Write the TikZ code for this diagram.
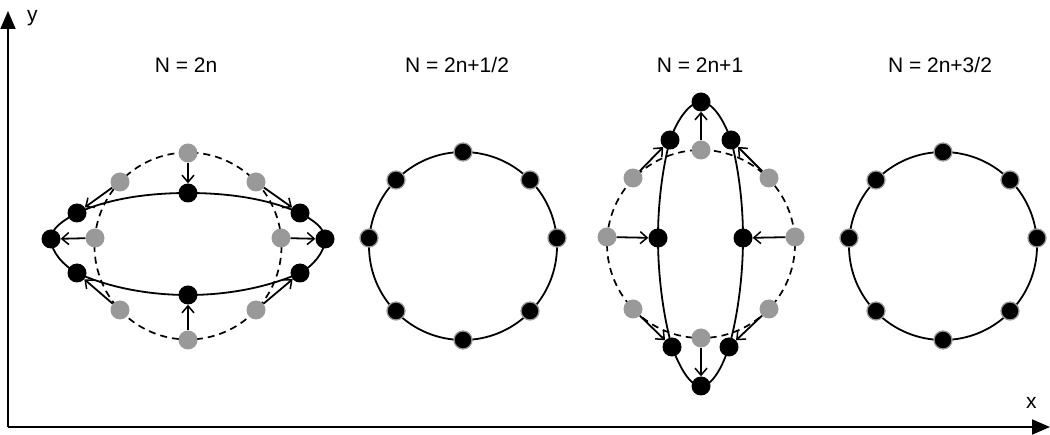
\documentclass[tikz,border=0pt]{standalone}
\usepackage{fontspec}
\setmainfont{Liberation Sans}
\usetikzlibrary{arrows.meta}
\pgfdeclarelayer{bg}
\pgfsetlayers{bg,main}
\definecolor{gr}{RGB}{153,153,153}
\begin{document}
\begin{tikzpicture}[x=1pt,y=-1pt,
  font=\fontsize{21}{24}\selectfont,
  bn/.style={circle,fill=black,minimum size=19pt,inner sep=0pt},
  gn/.style={circle,fill=gr,minimum size=19pt,inner sep=0pt},
  rn/.style={circle,fill=black,draw=gr,line width=1.3pt,minimum size=18pt,inner sep=0pt},
  solidcurve/.style={line width=1.8pt},
  dashcurve/.style={line width=1.7pt,dash pattern=on 7pt off 5pt},
  arr/.style={line width=1.8pt,-{Straight Barb[length=7pt,width=12pt,line width=1.5pt]}},
  axisline/.style={line width=1.9pt,-{Triangle[length=18pt,width=15pt]}},
  title/.style={anchor=base}]
\useasboundingbox (0,0) rectangle (1050,435);

% axes
\coordinate (o) at (8,427);
\coordinate (ytip) at (8,11);
\coordinate (xtip) at (1050,427);
\draw[axisline] (o) -- (ytip);
\draw[axisline] (o) -- (xtip);
\node[anchor=base west,inner sep=0pt] (ylab) at (27,22) {y};
\node[anchor=base west,inner sep=0pt] (xlab) at (1026,409) {x};

% titles
\node[title] (t1) at (186,73) {N = 2n};
\node[title] (t2) at (457,73) {N = 2n+1/2};
\node[title] (t3) at (700,73) {N = 2n+1};
\node[title] (t4) at (940,73) {N = 2n+3/2};

% ---------- diagram 1 ----------
\coordinate (c1) at (188,246);
\node[gn] (g1T)  at (188,153) {};
\node[gn] (g1UR) at (256,182) {};
\node[gn] (g1R)  at (281,238) {};
\node[gn] (g1LR) at (256,310) {};
\node[gn] (g1B)  at (188,340) {};
\node[gn] (g1LL) at (120,310) {};
\node[gn] (g1L)  at (95,238) {};
\node[gn] (g1UL) at (120,182) {};
\node[bn] (b1T)  at (188,193) {};
\node[bn] (b1UR) at (300,213) {};
\node[bn] (b1R)  at (325,239) {};
\node[bn] (b1LR) at (300,273) {};
\node[bn] (b1B)  at (188,295) {};
\node[bn] (b1LL) at (77,273) {};
\node[bn] (b1L)  at (51,239) {};
\node[bn] (b1UL) at (77,213) {};
\begin{pgfonlayer}{bg}
\draw[dashcurve] (c1) circle[radius=93.5];
\draw[solidcurve] (b1UL.center) .. controls (110,198) and (150,193) .. (b1T.center)
   .. controls (226,193) and (266,198) .. (b1UR.center)
   .. controls (313,220) and (325,228) .. (b1R.center)
   .. controls (325,252) and (313,266) .. (b1LR.center)
   .. controls (266,288) and (226,295) .. (b1B.center)
   .. controls (150,295) and (110,288) .. (b1LL.center)
   .. controls (64,266) and (51,252) .. (b1L.center)
   .. controls (51,228) and (64,220) .. (b1UL.center);
\end{pgfonlayer}
\foreach \p in {T,UR,R,LR,B,LL,L,UL}{\draw[arr] (g1\p) -- (b1\p);}

% ---------- diagram 2 ----------
\coordinate (c2) at (463,246);
\node[rn] (r2T)  at (463,152) {};
\node[rn] (r2UR) at (530,180) {};
\node[rn] (r2R)  at (557,238) {};
\node[rn] (r2LR) at (530,311) {};
\node[rn] (r2B)  at (463,340) {};
\node[rn] (r2LL) at (396,311) {};
\node[rn] (r2L)  at (369,238) {};
\node[rn] (r2UL) at (396,180) {};
\begin{pgfonlayer}{bg}
\draw[solidcurve] (c2) circle[radius=94];
\end{pgfonlayer}

% ---------- diagram 3 ----------
\coordinate (c3) at (701,244);
\node[gn] (g3T)  at (701,150) {};
\node[gn] (g3UR) at (769,178) {};
\node[gn] (g3R)  at (795,237) {};
\node[gn] (g3LR) at (769,309) {};
\node[gn] (g3B)  at (701,338) {};
\node[gn] (g3LL) at (633,309) {};
\node[gn] (g3L)  at (607,237) {};
\node[gn] (g3UL) at (633,178) {};
\node[bn] (b3T)  at (701,102) {};
\node[bn] (b3UR) at (731,140) {};
\node[bn] (b3R)  at (743,238) {};
\node[bn] (b3LR) at (729,347) {};
\node[bn] (b3B)  at (701,386) {};
\node[bn] (b3LL) at (672,347) {};
\node[bn] (b3L)  at (658,238) {};
\node[bn] (b3UL) at (670,140) {};
\begin{pgfonlayer}{bg}
\draw[dashcurve] (c3) circle[radius=94];
\draw[solidcurve] (b3UL.center) .. controls (662,170) and (658,205) .. (b3L.center)
   .. controls (658,275) and (663,315) .. (b3LL.center)
   .. controls (680,368) and (690,386) .. (b3B.center)
   .. controls (712,386) and (722,368) .. (b3LR.center)
   .. controls (738,315) and (743,275) .. (b3R.center)
   .. controls (743,205) and (739,170) .. (b3UR.center)
   .. controls (723,118) and (712,102) .. (b3T.center)
   .. controls (690,102) and (678,118) .. (b3UL.center);
\end{pgfonlayer}
\foreach \p in {T,UR,R,LR,B,LL,L,UL}{\draw[arr] (g3\p) -- (b3\p);}

% ---------- diagram 4 ----------
\coordinate (c4) at (943,246);
\node[rn] (r4T)  at (943,152) {};
\node[rn] (r4UR) at (1010,180) {};
\node[rn] (r4R)  at (1037,238) {};
\node[rn] (r4LR) at (1010,311) {};
\node[rn] (r4B)  at (943,340) {};
\node[rn] (r4LL) at (876,311) {};
\node[rn] (r4L)  at (849,238) {};
\node[rn] (r4UL) at (876,180) {};
\begin{pgfonlayer}{bg}
\draw[solidcurve] (c4) circle[radius=94];
\end{pgfonlayer}
\end{tikzpicture}
\end{document}
